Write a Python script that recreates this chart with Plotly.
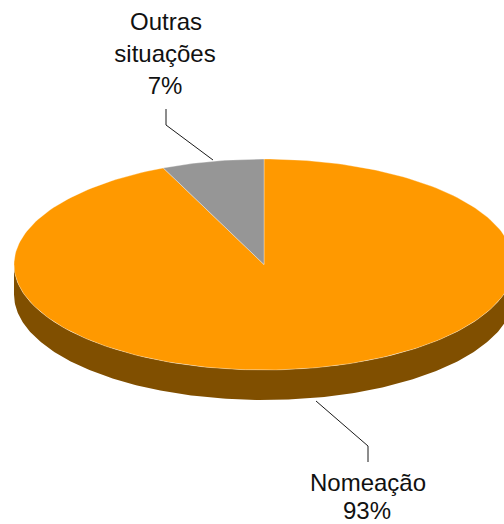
import numpy as np
import plotly.graph_objects as go

categories = ["Nomeação", "Outras situações"]
values = [93.4, 6.6]
colors = ["#FF9900", "#969696"]
side_color = "#804F00"

W, H = 504, 524
CX, CY, RX, RY, DEPTH = 264, 264.5, 250, 105.5, 30

def rim(a0, a1, n=240):
    """Clockwise angle from 12 o'clock, in degrees, to ellipse points."""
    t = np.radians(np.linspace(a0, a1, n))
    return CX + RX * np.sin(t), CY - RY * np.cos(t)

fig = go.Figure()

# Side wall of the disc
xf, yf = rim(90, 270)
sx = np.concatenate([xf, xf[::-1]])
sy = np.concatenate([yf, yf[::-1] + DEPTH])
fig.add_trace(go.Scatter(x=sx, y=sy, mode="lines", fill="toself", fillcolor=side_color,
                         line=dict(width=0), hoverinfo="skip", showlegend=False))

# Slices, clockwise from 12 o'clock
start = 0.0
total = sum(values)
for name, v, c in zip(categories, values, colors):
    end = start + v / total * 360
    x, y = rim(start, end)
    fig.add_trace(go.Scatter(x=np.r_[CX, x, CX], y=np.r_[CY, y, CY], mode="lines", fill="toself",
                             fillcolor=c, line=dict(color="rgba(255,255,255,0.55)", width=0.6),
                             name=name, showlegend=False))
    start = end

# Leader lines
for lx, ly in [((166, 166, 213), (109, 125, 160)), ((316, 368, 368), (401, 446, 462))]:
    fig.add_trace(go.Scatter(x=lx, y=ly, mode="lines", line=dict(color="#1a1a1a", width=1),
                             hoverinfo="skip", showlegend=False))

# Labels: one text per line to keep the wide line spacing
pcts = [f"{round(v)}%" for v in values]
label_lines = [("Outras", 166, 24), ("situações", 165, 56), (pcts[1], 165, 88),
               (categories[0], 368, 485), (pcts[0], 367, 513)]
fig.add_trace(go.Scatter(x=[l[1] for l in label_lines], y=[l[2] for l in label_lines],
                         text=[l[0] for l in label_lines], mode="text", textposition="middle center",
                         textfont=dict(family="Liberation Sans, Arial, sans-serif", size=24, color="#111111"),
                         cliponaxis=False, hoverinfo="skip", showlegend=False))

fig.update_layout(width=W, height=H, margin=dict(l=0, r=0, t=0, b=0), autosize=False,
                  paper_bgcolor="white", plot_bgcolor="white",
                  xaxis=dict(range=[0, W], visible=False, fixedrange=True),
                  yaxis=dict(range=[H, 0], visible=False, fixedrange=True))
fig.write_html("out.html", config={"displayModeBar": False},
               post_script="document.body.style.margin='0';document.documentElement.style.overflow='hidden';")
